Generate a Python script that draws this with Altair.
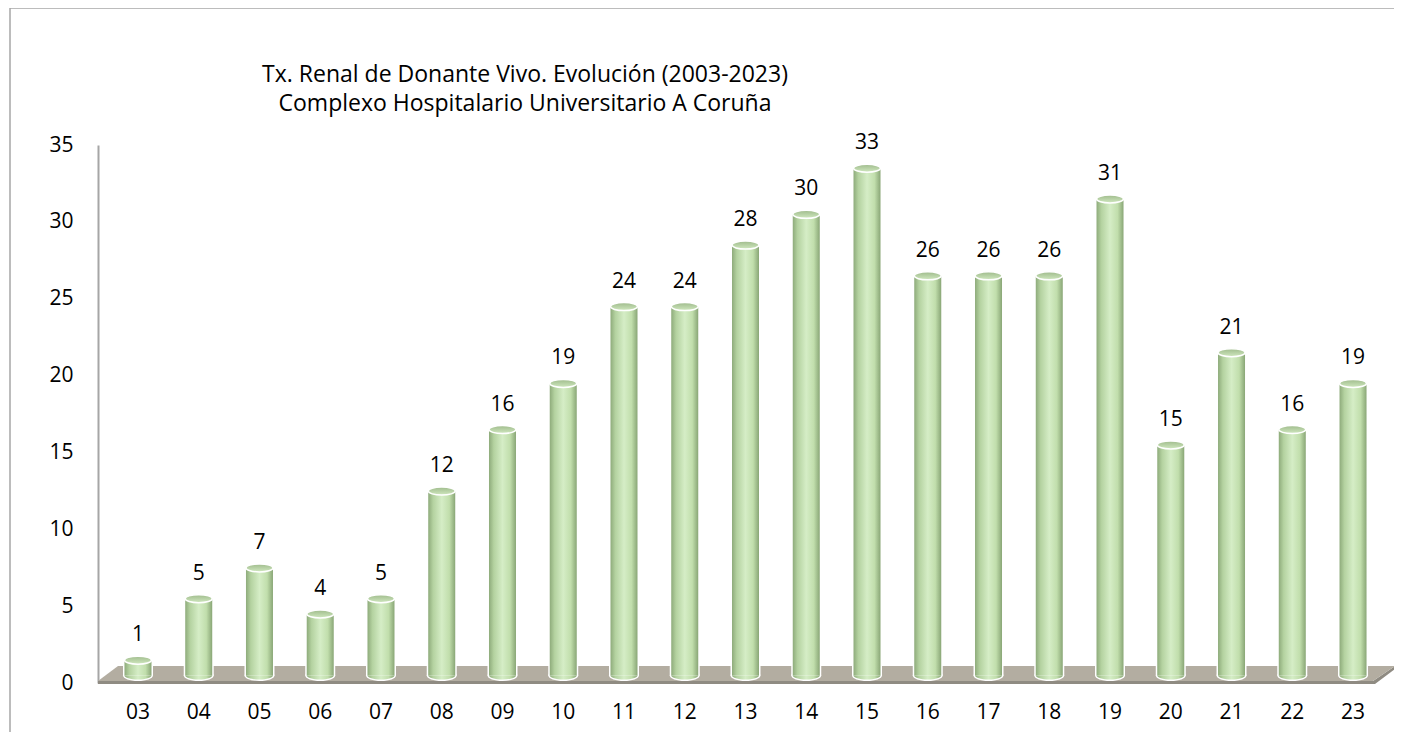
import altair as alt
import pandas as pd

# ---------------- data ----------------
years = ["03", "04", "05", "06", "07", "08", "09", "10", "11", "12", "13",
         "14", "15", "16", "17", "18", "19", "20", "21", "22", "23"]
values = [1, 5, 7, 4, 5, 12, 16, 19, 24, 24, 28, 30, 33, 26, 26, 26, 31, 15, 21, 16, 19]
y_ticks = [0, 5, 10, 15, 20, 25, 30, 35]
title_lines = ["Tx. Renal de Donante Vivo. Evolución (2003-2023)",
               "Complexo Hospitalario Universitario A Coruña"]

df = pd.DataFrame({"year": years, "value": values})

# ---------------- layout / style ----------------
W, H = 1295, 538
FONT = "Open Sans"
DEPTH = -7.5          # 3D depth shift of cylinders

x_enc = alt.X("year:N", sort=years,
              scale=alt.Scale(paddingInner=0.556, paddingOuter=0.436),
              axis=alt.Axis(title=None, domain=False, ticks=False, labelAngle=0,
                            labelFont=FONT, labelFontSize=21, labelColor="#000000",
                            labelPadding=29, labelBaseline="middle"))
y_enc = alt.Y("value:Q", scale=alt.Scale(domain=[0, 35], nice=False),
              axis=alt.Axis(title=None, values=y_ticks, grid=False, ticks=False,
                            domainColor="#a6a6a6", domainWidth=2,
                            labelFont=FONT, labelFontSize=21, labelColor="#000000",
                            labelPadding=25))
x_plain = alt.X("year:N", sort=years)
y_plain = alt.Y("value:Q")
zero = alt.Y("z:Q")

side_grad = {"gradient": "linear", "x1": 0, "x2": 1, "y1": 0, "y2": 0,
             "stops": [{"offset": 0, "color": "#8eab7b"},
                       {"offset": 0.18, "color": "#b4d2a0"},
                       {"offset": 0.5, "color": "#d5edc6"},
                       {"offset": 0.78, "color": "#c1deac"},
                       {"offset": 1, "color": "#89a676"}]}
top_grad = {"gradient": "linear", "x1": 0, "x2": 0, "y1": 0, "y2": 1,
            "stops": [{"offset": 0, "color": "#9fbb8c"},
                      {"offset": 1, "color": "#d0e8bf"}]}

ELL_OUT = "M-15,0A15,5.5,0,1,0,15,0A15,5.5,0,1,0,-15,0Z"
ELL_TOP = "M-13.5,0A13.5,4,0,1,0,13.5,0A13.5,4,0,1,0,-13.5,0Z"
ELL_BOT = "M-13.5,0A13.5,4,0,0,0,13.5,0Z"

base = alt.Chart(df).transform_calculate(z="0")

# frame
frame = alt.Chart(pd.DataFrame({"k": [0]})).mark_rect(
    fillOpacity=0, stroke="#a6a6a6", strokeWidth=1.5
).encode(x=alt.value(-88), x2=alt.value(W + 300), y=alt.value(-137), y2=alt.value(H + 300))

# floor (top face and front edge), drawn as pixel paths anchored at the plot bottom
FLOOR_TOP = "M0,-2L20,-17L1297,-17L1275,-2Z"
FLOOR_FRONT = "M0,-2L1275,-2L1297,-17L1297,-14L1277,1L0,1Z"
floor_front = alt.Chart(pd.DataFrame({"k": [0]})).mark_point(
    shape=FLOOR_FRONT, size=4, filled=True, fill="#8f8b82", strokeWidth=0, opacity=1
).encode(x=alt.value(0), y=alt.value(H))
floor_top = alt.Chart(pd.DataFrame({"k": [0]})).mark_point(
    shape=FLOOR_TOP, size=4, filled=True, fill="#b3ada1", strokeWidth=0, opacity=1
).encode(x=alt.value(0), y=alt.value(H))

# cylinders
axes_layer = base.mark_bar(opacity=0).encode(x=x_enc, y=y_enc)
white_bot = base.mark_point(shape=ELL_OUT, size=4, filled=True, fill="#ffffff",
                            strokeWidth=0, opacity=1, yOffset=DEPTH).encode(x=x_plain, y=zero)
white_bar = base.mark_bar(width=30, color="#ffffff", yOffset=DEPTH).encode(x=x_plain, y=y_plain)
col_bot = base.mark_point(shape=ELL_BOT, size=4, filled=True, fill=side_grad,
                          strokeWidth=0, opacity=1, yOffset=DEPTH).encode(x=x_plain, y=zero)
col_bar = base.mark_bar(width=27, fill=side_grad, yOffset=DEPTH).encode(x=x_plain, y=y_plain)
top = base.mark_point(shape=ELL_TOP, size=4, filled=True, fill=top_grad, stroke="#ffffff",
                      strokeWidth=1.5, opacity=1, yOffset=DEPTH).encode(x=x_plain, y=y_plain)
labels = base.mark_text(font=FONT, fontSize=21, color="#000000", baseline="middle",
                        yOffset=DEPTH - 25).encode(x=x_plain, y=y_plain, text="value:Q")

# title
t1 = alt.Chart(pd.DataFrame({"t": [title_lines[0]]})).mark_text(
    font=FONT, fontSize=23, color="#000000", baseline="middle", align="center"
).encode(x=alt.value(427), y=alt.value(-70), text="t:N")
t2 = alt.Chart(pd.DataFrame({"t": [title_lines[1]]})).mark_text(
    font=FONT, fontSize=23, color="#000000", baseline="middle", align="center"
).encode(x=alt.value(427), y=alt.value(-41), text="t:N")

chart = alt.layer(
    frame, floor_front, floor_top, axes_layer, white_bot, white_bar, col_bot, col_bar,
    top, labels, t1, t2
).properties(
    width=W, height=H,
    autosize=alt.AutoSizeParams(type="none"),
    padding={"left": 90, "top": 137, "right": 1, "bottom": 49},
    background="#ffffff"
).configure_view(stroke=None)

chart.save("out.html", embed_options={"renderer": "svg", "actions": False})
